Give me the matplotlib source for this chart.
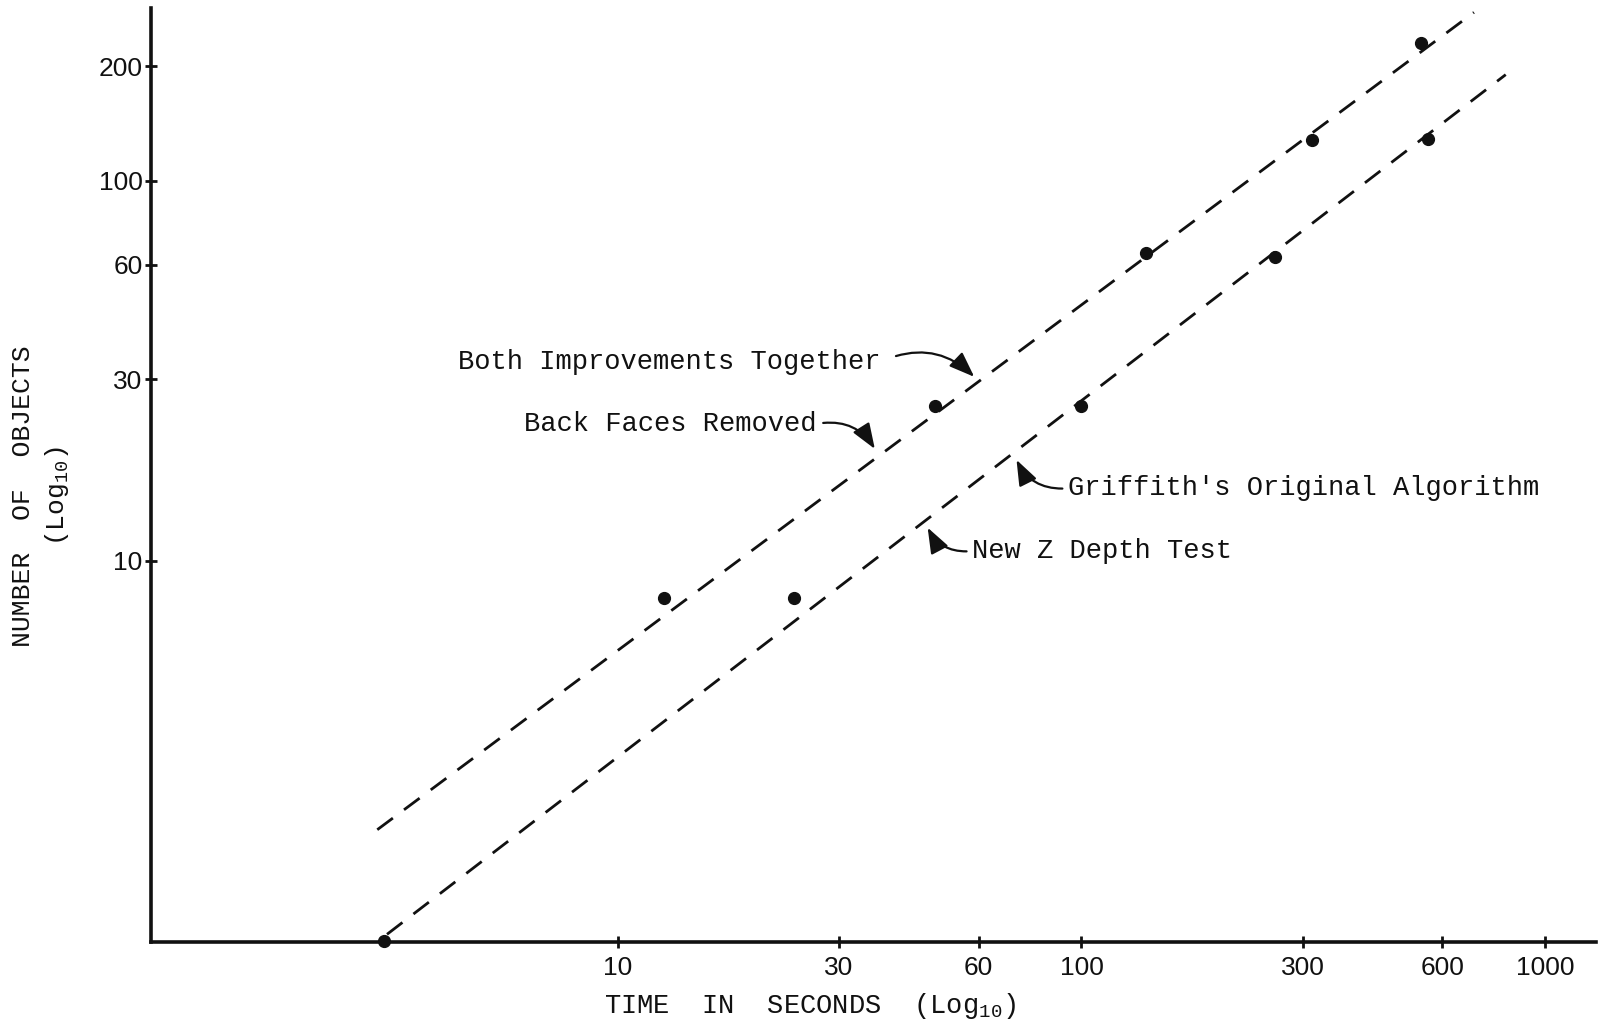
import matplotlib
matplotlib.use("Agg")
import matplotlib.pyplot as plt

# measured points (time in seconds, number of objects)
upper_t = [12.6, 48.3, 138, 314, 541]
upper_n = [8.0, 25.6, 64.5, 128, 230]
lower_t = [3.14, 24, 100, 261, 560]
lower_n = [1.0, 8.0, 25.6, 63, 129]

# hand drawn fit lines (end points)
upper_fit_t = [3.03, 702]
upper_fit_n = [1.96, 277]
lower_fit_t = [3.18, 822]
lower_fit_n = [1.04, 190]

x_ticks = [10, 30, 60, 100, 300, 600, 1000]
y_ticks = [10, 30, 60, 100, 200]

MONO = "Liberation Mono"
NUM = "Liberation Sans"
INK = "#111111"

plt.rcParams['mathtext.fontset'] = 'custom'
plt.rcParams['mathtext.rm'] = MONO
plt.rcParams['mathtext.it'] = MONO

fig = plt.figure(figsize=(16.2, 10.35), dpi=100)
ax = fig.add_axes([0.0932, 0.0899, 0.8918, 0.9021])
ax.set_xscale('log')
ax.set_yscale('log')
ax.set_xlim(0.985, 1285)
ax.set_ylim(0.993, 284)

dash = (7.0, 5.0)
ax.plot(upper_fit_t, upper_fit_n, color=INK, lw=2.0, dashes=dash)
ax.plot(lower_fit_t, lower_fit_n, color=INK, lw=2.0, dashes=dash)
ax.plot(upper_t, upper_n, 'o', color=INK, ms=8.5, clip_on=False)
ax.plot(lower_t, lower_n, 'o', color=INK, ms=8.5, clip_on=False)

for s in ['top', 'right']:
    ax.spines[s].set_visible(False)
for s in ['left', 'bottom']:
    ax.spines[s].set_linewidth(2.6)
    ax.spines[s].set_color(INK)

ax.set_xticks(x_ticks)
ax.set_xticklabels([str(v) for v in x_ticks])
ax.set_yticks(y_ticks)
ax.set_yticklabels([str(v) for v in y_ticks])
ax.minorticks_off()
ax.tick_params(direction='inout', length=8, width=2, color=INK,
               labelsize=19, labelcolor=INK)
ax.tick_params(axis='x', pad=6)
ax.tick_params(axis='y', pad=2)
for lab in ax.get_xticklabels() + ax.get_yticklabels():
    lab.set_fontfamily(NUM)

txt = dict(fontsize=19.5, family=MONO, color=INK)
arrow = dict(arrowstyle='-|>,head_length=0.8,head_width=0.3', color=INK, lw=1.6)

ax.annotate("Both Improvements Together", xy=(59.3, 30.1), xytext=(36.8, 33.3),
            ha='right', va='center',
            arrowprops=dict(arrow, connectionstyle='arc3,rad=-0.35', relpos=(1, 0.5),
                            shrinkA=10, shrinkB=2), **txt)
ax.annotate("Back Faces Removed", xy=(36.1, 19.4), xytext=(26.8, 22.9),
            ha='right', va='center',
            arrowprops=dict(arrow, connectionstyle='arc3,rad=-0.35', relpos=(1, 0.5),
                            shrinkA=3, shrinkB=2), **txt)
ax.annotate("Griffith's Original Algorithm", xy=(72, 18.7), xytext=(93.5, 15.5),
            ha='left', va='center',
            arrowprops=dict(arrow, connectionstyle='arc3,rad=-0.35', relpos=(0, 0.5),
                            shrinkA=2, shrinkB=2), **txt)
ax.annotate("New Z Depth Test", xy=(46.3, 12.4), xytext=(58.1, 10.6),
            ha='left', va='center',
            arrowprops=dict(arrow, connectionstyle='arc3,rad=-0.35', relpos=(0, 0.5),
                            shrinkA=2, shrinkB=2), **txt)

# axis titles
fig.text(0.500, 0.028, "TIME  IN  SECONDS  (Log$_{10}$)", ha='center', va='center',
         fontsize=19.5, family=MONO, color=INK)
fig.text(0.014, 0.521, "NUMBER  OF  OBJECTS", rotation=90, ha='center', va='center',
         fontsize=19, family=MONO, color=INK)
fig.text(0.035, 0.521, "(Log$_{10}$)", rotation=90, ha='center', va='center',
         fontsize=19, family=MONO, color=INK)

fig.savefig("out.png", dpi=100, facecolor='white')
